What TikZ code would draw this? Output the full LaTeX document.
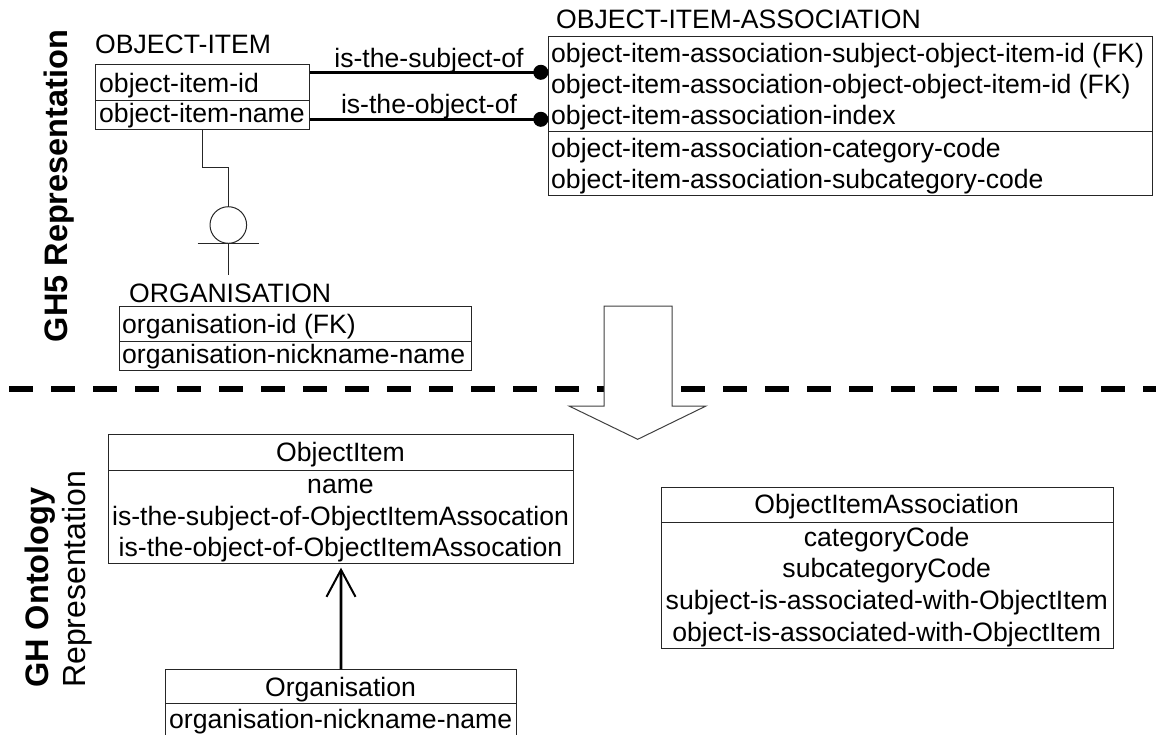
\documentclass[tikz,border=0pt]{standalone}
\usepackage{fontspec}
\setmainfont{Liberation Sans}
\usetikzlibrary{arrows.meta}
\begin{document}
\begin{tikzpicture}[x=1pt,y=-1pt,
  every node/.style={font=\fontsize{26.6}{30}\selectfont, inner sep=0pt, text=black},
  box/.style 2 args={draw=black!85, line width=1pt, anchor=north west, minimum width=#1, minimum height=#2},
  title/.style={anchor=base west},
  cell/.style={anchor=base west},
  ccell/.style={anchor=base},
  thin/.style={draw=black!85, line width=1pt},
  rel/.style={line width=3pt, -{Circle[length=15pt]}},
  rellabel/.style={midway, anchor=base, yshift=#1},
  inh/.style={line width=2.7pt, -{Straight Barb[length=27pt, width=29pt, line width=2pt]}, shorten >=4pt},
  sep/.style={line width=6pt, dash pattern=on 24pt off 18pt},
  bigarrow/.style={draw=black!75, line width=1pt, fill=white},
  sidebold/.style={rotate=90, font=\fontsize{32.5}{36}\selectfont\bfseries},
  side/.style={rotate=90, font=\fontsize{32}{36}\selectfont}
]
\useasboundingbox (0,0) rectangle (1156,734);

% ---------- side labels ----------
\node[sidebold, anchor=base] (gh5) at (67,186) {GH5 Representation};
\node[sidebold, anchor=base west] (ghont) at (48,688) {GH Ontology};
\node[side, anchor=base west] (ghrep) at (85,688) {Representation};

% ---------- GH5 entities ----------
\node[title] (oiT) at (95,53) {OBJECT-ITEM};
\node[box={213.7}{36}] (oiA) at (95,64) {};
\node[box={213.7}{29.3}] (oiB) at (95,100) {};
\node[cell] at (99,92) {object-item-id};
\node[cell] at (99,122) {object-item-name};

\node[title] (oiaT) at (556,28) {OBJECT-ITEM-ASSOCIATION};
\node[box={603.7}{95}] (oiaA) at (548.3,36) {};
\node[box={603.7}{64}] (oiaB) at (548.3,131) {};
\node[cell] at (551,62) {object-item-association-subject-object-item-id (FK)};
\node[cell] at (551,93) {object-item-association-object-object-item-id (FK)};
\node[cell] at (551,124) {object-item-association-index};
\node[cell] at (551,157) {object-item-association-category-code};
\node[cell] at (551,188) {object-item-association-subcategory-code};

\node[title] (orgT) at (129,302) {ORGANISATION};
\node[box={351.7}{35}] (orgA) at (119.3,305.7) {};
\node[box={351.7}{29.3}] (orgB) at (119.3,340.7) {};
\node[cell] at (122,333.5) {organisation-id (FK)};
\node[cell] at (122,363.5) {organisation-nickname-name};

% relationships
\draw[rel] (oiA.east |- 0,72.3) -- node[rellabel=4.6pt] {is-the-subject-of} (oiaA.west |- 0,72.3);
\draw[rel] (oiB.east |- 0,119.3) -- node[rellabel=6.3pt] {is-the-object-of} (oiaA.west |- 0,119.3);

% subtype (category) symbol
\node[circle, thin, draw, minimum size=36.6pt] (cat) at (228.3,225) {};
\coordinate (catEnd) at (228.3,275);
\draw[thin] (oiB.south -| 202.3,0) -- (202.3,167.3) -| (cat.north);
\draw[thin] (cat.south -| 197.7,0) -- (cat.south -| 259,0);
\draw[thin] (cat.south) -- (catEnd);

% ---------- separator and transformation arrow ----------
\coordinate (sepL) at (9.3,388.5);
\coordinate (sepR) at (1160,388.5);
\draw[sep] (sepL) -- (sepR);
\draw[bigarrow] (604,306) -- (672,306) -- (672,406) -- (706,406) -- (637.7,439.3)
  -- (569,406) -- (604,406) -- cycle;

% ---------- ontology classes ----------
\node[box={465.6}{35.7}] (oiH) at (107.7,434) {};
\node[box={465.6}{93}] (oiC) at (107.7,469.7) {};
\node[ccell] at (340.5,461.7) {ObjectItem};
\node[ccell] at (340.5,493.3) {name};
\node[ccell] at (340.5,525) {is-the-subject-of-ObjectItemAssocation};
\node[ccell] at (340.5,556) {is-the-object-of-ObjectItemAssocation};

\node[box={452}{34.7}] (oiaH) at (660.7,487.3) {};
\node[box={452}{126.3}] (oiaC) at (660.7,522) {};
\node[ccell] at (886.7,513.3) {ObjectItemAssociation};
\node[ccell] at (886.7,546) {categoryCode};
\node[ccell] at (886.7,577.3) {subcategoryCode};
\node[ccell] at (886.7,609.3) {subject-is-associated-with-ObjectItem};
\node[ccell] at (886.7,641.7) {object-is-associated-with-ObjectItem};

\node[box={351.7}{34}] (orgH) at (164.65,669.3) {};
\node[box={351.7}{36}] (orgC) at (164.65,703.3) {};
\node[ccell] at (340.5,696.7) {Organisation};
\node[cell] at (169,728.3) {organisation-nickname-name};

\draw[inh] (orgH.north) -- (oiC.south);
\end{tikzpicture}
\end{document}
